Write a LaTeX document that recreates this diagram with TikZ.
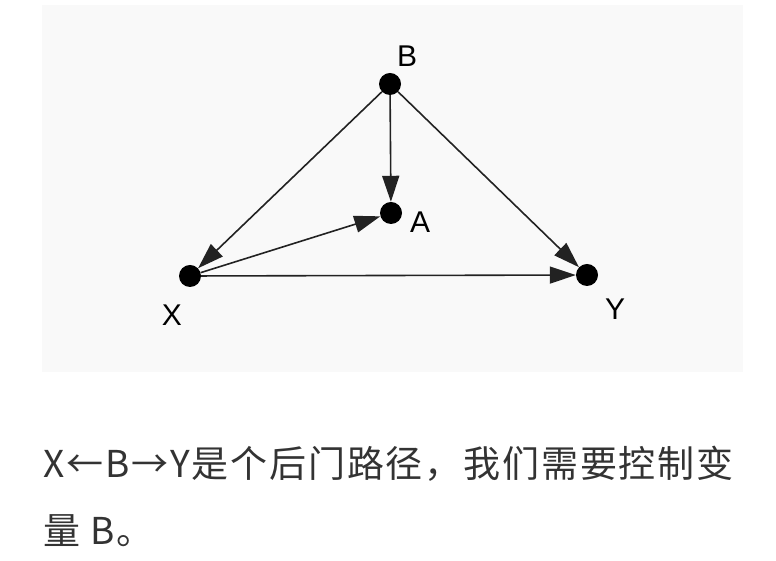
\documentclass[tikz,border=0pt]{standalone}
\usepackage{fontspec}
\newfontfamily\cjk[LetterSpace=5]{Noto Sans CJK SC}
\newfontfamily\lab{Liberation Sans}
\usetikzlibrary{arrows.meta}
\definecolor{boxgray}{HTML}{F9F9F9}
\definecolor{txt}{HTML}{333333}
\definecolor{edge}{HTML}{222222}
\begin{document}
\begin{tikzpicture}[x=1pt,y=1pt,
  dot/.style={circle,fill=black,inner sep=0pt,minimum size=22pt},
  lbl/.style={font=\lab\fontsize{30}{30}\selectfont,inner sep=0pt},
  link/.style={draw=edge,line width=1.6pt,-{Triangle[length=26pt,width=17pt]}},
  para/.style={font=\cjk\fontsize{37}{37}\selectfont,text=txt,inner sep=0pt,anchor=base west}]
\useasboundingbox (0,0) rectangle (776,561);
\fill[boxgray] (42,189) rectangle (743,556);
\node[dot] (B) at (390,477) {};
\node[dot] (A) at (391,348) {};
\node[dot] (X) at (190,285) {};
\node[dot] (Y) at (587,286) {};
\node[lbl] (lB) at (407,505) {B};
\node[lbl] (lA) at (420,339) {A};
\node[lbl] (lX) at (172,246) {X};
\node[lbl] (lY) at (615,252) {Y};
\draw[link] (B) -- (A);
\draw[link] (B) -- (X);
\draw[link] (B) -- (Y);
\draw[link] (X) -- (A);
\draw[link] (X) -- (Y);
\node[para] (t1) at (43,83) {X←B→Y是个后门路径，我们需要控制变};
\node[para] (t2) at (43,16) {量 B。};
\end{tikzpicture}
\end{document}
